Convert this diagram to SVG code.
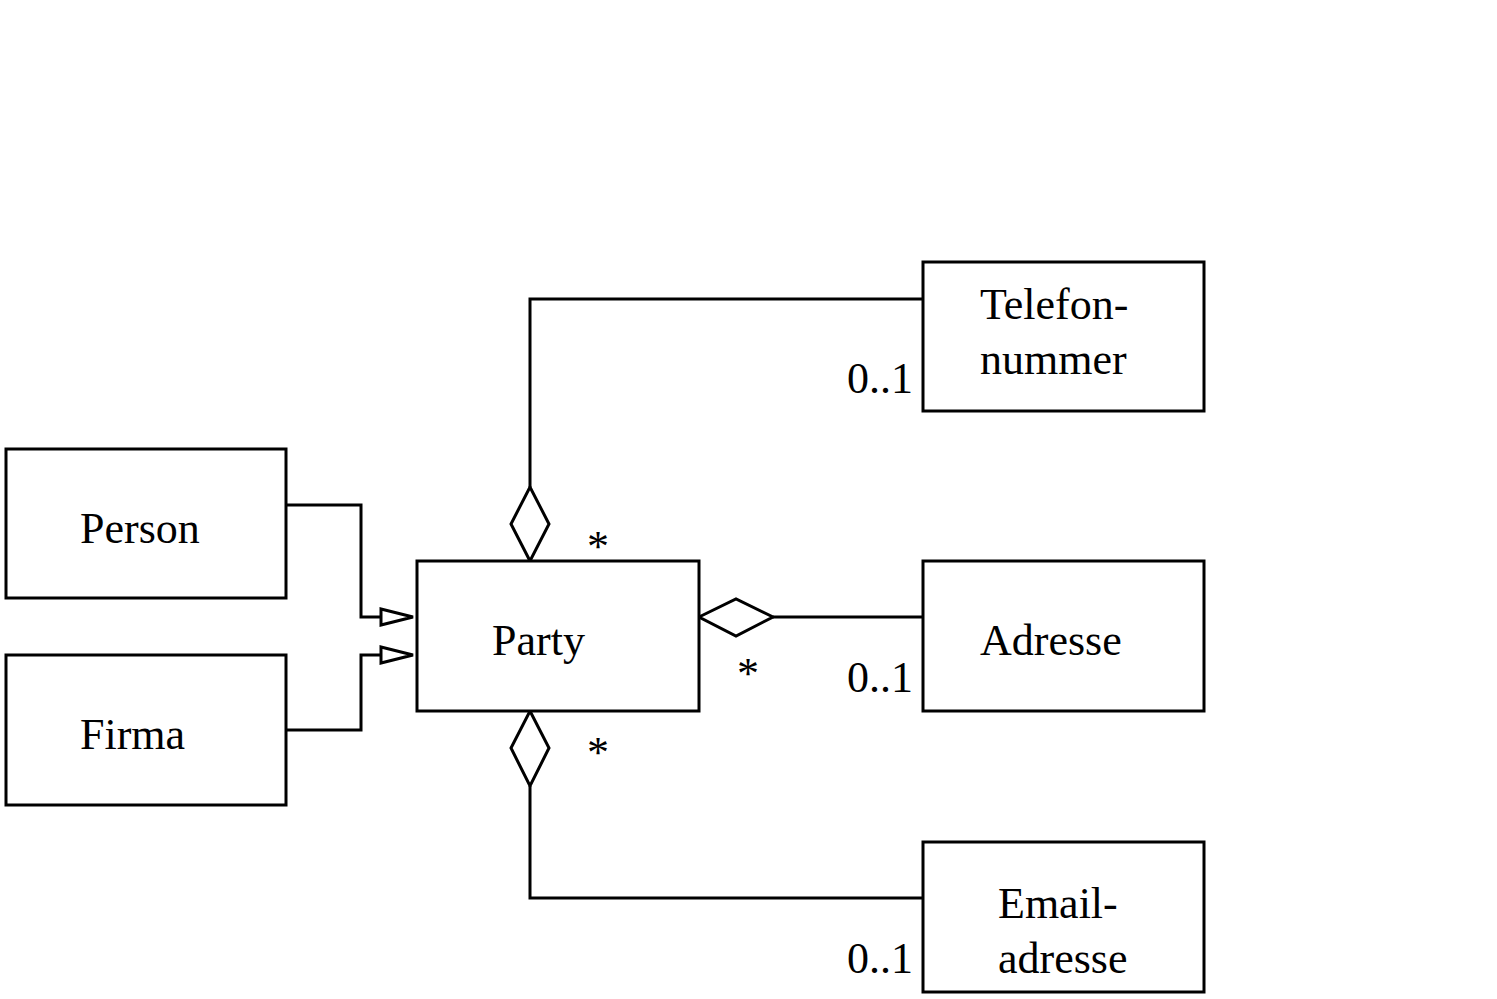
<svg xmlns="http://www.w3.org/2000/svg" width="1497" height="999" viewBox="0 0 1497 999">
<style>
.box{fill:#fff;stroke:#000;stroke-width:3}
.ln{fill:none;stroke:#000;stroke-width:3}
.dia{fill:#fff;stroke:#000;stroke-width:3;stroke-linejoin:miter}
text{font-family:"Liberation Serif","Times New Roman",serif;font-size:44px;fill:#000}
.m{text-anchor:middle}
</style>
<rect width="1497" height="999" fill="#fff"/>
<g id="connectors">
<polyline class="ln" points="286,505 361,505 361,617 381,617"/>
<polygon class="dia" points="381,609 413,617 381,625"/>
<polyline class="ln" points="286,730 361,730 361,655 381,655"/>
<polygon class="dia" points="381,647 413,655 381,663"/>
<polyline class="ln" points="530,487 530,299 923,299"/>
<polygon class="dia" points="530,561 511,524 530,487 549,524"/>
<polyline class="ln" points="530,786 530,898 923,898"/>
<polygon class="dia" points="530,711 549,748 530,786 511,748"/>
<line class="ln" x1="773" y1="617" x2="923" y2="617"/>
<polygon class="dia" points="699,617 736,599 773,617 736,636"/>
<text class="m" x="598" y="561">*</text>
<text class="m" x="748" y="688">*</text>
<text class="m" x="598" y="767">*</text>
<text x="847" y="393">0..1</text>
<text x="847" y="692">0..1</text>
<text x="847" y="973">0..1</text>
</g>
<g id="person">
<rect class="box" x="6" y="449" width="280" height="149"/>
<text x="80" y="543">Person</text>
</g>
<g id="firma">
<rect class="box" x="6" y="655" width="280" height="150"/>
<text x="80" y="749">Firma</text>
</g>
<g id="party">
<rect class="box" x="417" y="561" width="282" height="150"/>
<text x="492" y="655">Party</text>
</g>
<g id="telefonnummer">
<rect class="box" x="923" y="262" width="281" height="149"/>
<text x="980" y="319">Telefon-</text>
<text x="980" y="374">nummer</text>
</g>
<g id="adresse">
<rect class="box" x="923" y="561" width="281" height="150"/>
<text x="980" y="655">Adresse</text>
</g>
<g id="emailadresse">
<rect class="box" x="923" y="842" width="281" height="150"/>
<text x="998" y="918">Email-</text>
<text x="998" y="973">adresse</text>
</g>
</svg>
